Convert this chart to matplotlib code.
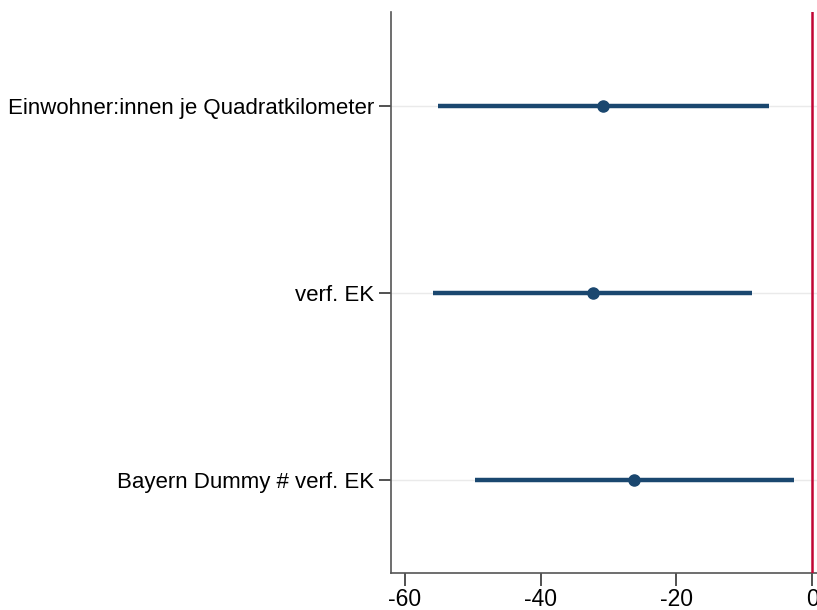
import numpy as np
import matplotlib.pyplot as plt

# coefficient estimates and 95% CIs
labels = ['Einwohner:innen je Quadratkilometer', 'verf. EK', 'Bayern Dummy # verf. EK']
coef = [-30.8, -32.3, -26.2]
ci_low = [-55.1, -55.8, -49.7]
ci_high = [-6.4, -8.9, -2.7]

plt.rcParams['font.family'] = ['Liberation Sans', 'DejaVu Sans']

fig = plt.figure(figsize=(8.17, 6.10), dpi=100)
ax = fig.add_axes([391 / 817, 1 - 573 / 610, 1 - 391 / 817, (573 - 12) / 610])

pos = np.arange(1, len(labels) + 1)
navy = '#1a476f'
for p in pos:
    ax.axhline(p, color='#eaeaea', lw=1, zorder=0)
ax.hlines(pos, ci_low, ci_high, color=navy, lw=3.2, zorder=2)
ax.plot(coef, pos, 'o', color=navy, ms=8, zorder=3)
ax.axvline(0, color='#c10534', lw=1.8, zorder=4)

ax.set_xlim(-62.06, 0.7)
ax.set_ylim(3.5, 0.5)
ax.set_yticks(pos)
ax.set_yticklabels(labels, fontsize=16)
ax.set_xticks([-60, -40, -20, 0])
ax.set_xticklabels(['-60', '-40', '-20', '0'], fontsize=16.5)

for s in ['top', 'right']:
    ax.spines[s].set_visible(False)
for s in ['left', 'bottom']:
    ax.spines[s].set_color('#555555')
    ax.spines[s].set_linewidth(1.2)
ax.tick_params(axis='y', length=9, width=1.2, color='#333333', pad=3)
ax.tick_params(axis='x', length=9, width=1.2, color='#333333', pad=2)

fig.savefig('out.png', dpi=100)
